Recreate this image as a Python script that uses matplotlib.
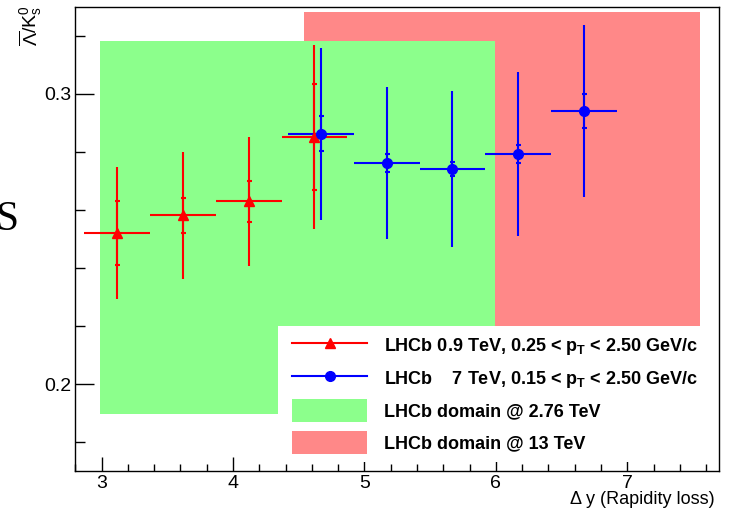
import matplotlib
matplotlib.use("Agg")
import matplotlib.pyplot as plt
from matplotlib.lines import Line2D
from matplotlib.patches import Patch, Rectangle
from matplotlib.legend_handler import HandlerLine2D, HandlerPatch
from matplotlib.ticker import MultipleLocator, FormatStrFormatter

plt.rcParams["font.family"] = ["Liberation Sans", "DejaVu Sans"]
plt.rcParams["mathtext.fontset"] = "custom"
plt.rcParams["mathtext.rm"] = "Liberation Sans"
plt.rcParams["mathtext.it"] = "Liberation Sans:italic"
plt.rcParams["mathtext.bf"] = "Liberation Sans:bold"

# LHCb 0.9 TeV (anti-Lambda / K0s vs rapidity loss)
dy_09 = [3.12, 3.62, 4.12, 4.62]
ratio_09 = [0.2521, 0.2581, 0.2630, 0.2851]
stat_09 = [0.0110, 0.0061, 0.0070, 0.0182]
tot_09 = [0.0228, 0.0218, 0.0222, 0.0318]

# LHCb 7 TeV
dy_7 = [4.67, 5.17, 5.67, 6.17, 6.67]
ratio_7 = [0.2862, 0.2761, 0.2741, 0.2792, 0.2942]
stat_7 = [0.0060, 0.0030, 0.0025, 0.0030, 0.0059]
tot_7 = [0.0296, 0.0262, 0.0270, 0.0283, 0.0296]

dy_halfwidth = 0.25

# kinematic domains: x0, x1, y0, y1
dom_276 = [2.985, 5.99, 0.1896, 0.3183]
dom_13 = [4.54, 7.55, 0.19, 0.3282]

GREEN = "#8cff8c"
SALMON = "#ff8888"

fig = plt.figure(figsize=(7.31, 5.15), dpi=100)
ax = fig.add_axes([0.1030, 0.0849, 0.881, 0.9021])

# 13 TeV 在下, 2.76 TeV 蓋在上面
ax.fill_between(dom_13[:2], dom_13[2], dom_13[3], color=SALMON, lw=0, zorder=1)
ax.fill_between(dom_276[:2], dom_276[2], dom_276[3], color=GREEN, lw=0, zorder=1)

# total error 無 cap, stat error 用小 cap 標出
for x, y, st, tot, col, mk, ms in [
        (dy_09, ratio_09, stat_09, tot_09, "red", "^", 6.5),
        (dy_7, ratio_7, stat_7, tot_7, "blue", "o", 7)]:
    ax.errorbar(x, y, xerr=dy_halfwidth, yerr=tot, fmt=mk, color=col,
                ms=ms, lw=1.5, capsize=0, zorder=3)
    ax.errorbar(x, y, yerr=st, fmt="none", ecolor=col, lw=1.5,
                capsize=1.8, capthick=1.5, zorder=3)

ax.set_xlim(2.8, 7.7)
ax.set_ylim(0.17, 0.33)
ax.xaxis.set_major_locator(MultipleLocator(1))
ax.xaxis.set_minor_locator(MultipleLocator(0.2))
ax.yaxis.set_major_locator(MultipleLocator(0.1))
ax.yaxis.set_minor_locator(MultipleLocator(0.02))
ax.yaxis.set_major_formatter(FormatStrFormatter("%.1f"))
ax.tick_params(which="both", direction="in", top=False, right=False,
               width=1, labelsize=14)
ax.tick_params(axis="x", which="major", length=10, pad=2.5)
ax.tick_params(axis="x", which="minor", length=5)
ax.tick_params(axis="y", which="major", length=13.7, pad=3)
ax.tick_params(axis="y", which="minor", length=7.2)
for sp in ax.spines.values():
    sp.set_linewidth(1)

ax.set_xlabel("\u0394 y (Rapidity loss)", fontsize=13, loc="right")
ax.xaxis.set_label_coords(0.9933, -0.042)
ax.xaxis.label.set_va("top")
fig.text(30.5 / 731, 1 - 5 / 515, r"$\overline{\Lambda}/\mathrm{K}^{0}_{\mathrm{s}}$",
         rotation=90, ha="center", va="top", fontsize=14)


# ROOT 風格圖例: 所有列等高, 色塊比列矮一點
def small_box(legend, orig_handle, xdescent, ydescent, width, height, fontsize):
    h = 1.27 * fontsize
    return Rectangle((-xdescent, -ydescent + (height - h) / 2), width, h)


XPAD = 0.31
handles = [
    Line2D([], [], color="red", marker="^", ms=6.5, lw=1.5),
    Line2D([], [], color="blue", marker="o", ms=7, lw=1.5),
    Patch(facecolor=GREEN, edgecolor="none"),
    Patch(facecolor=SALMON, edgecolor="none"),
]
labels = [
    r"LHCb 0.9 TeV, 0.25 < $\mathbf{p}_{\mathbf{T}}$ < 2.50 GeV/c",
    r"LHCb    7 TeV, 0.15 < $\mathbf{p}_{\mathbf{T}}$ < 2.50 GeV/c",
    "LHCb domain @ 2.76 TeV",
    "LHCb domain @ 13 TeV",
]
ax.legend(handles, labels, loc="upper left",
          bbox_to_anchor=(0.3148, 0, 0.655, 0.3127), mode="expand",
          borderaxespad=0, frameon=True, fancybox=False, edgecolor="none",
          facecolor="white", framealpha=1, prop={"weight": "bold", "size": 13},
          handlelength=4.15 + XPAD, handleheight=1.5, handletextpad=0.94,
          labelspacing=0.53, borderpad=0.47,
          handler_map={Line2D: HandlerLine2D(xpad=XPAD),
                       Patch: HandlerPatch(patch_func=small_box, xpad=XPAD)})

# 左緣被裁掉的鄰圖文字
fig.text(-5 / 731, 1 - 230 / 515, "S", family="Liberation Serif", fontsize=30,
         ha="left", va="baseline")

fig.savefig("out.png", dpi=100)
